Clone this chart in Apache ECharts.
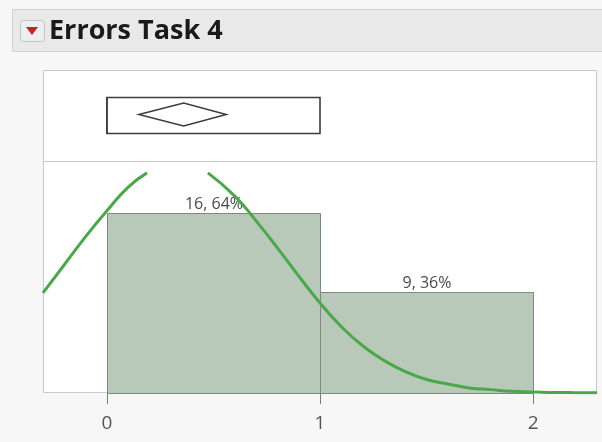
<!DOCTYPE html>
<html>
<head>
<meta charset="utf-8">
<script src="https://cdn.jsdelivr.net/npm/echarts@6/dist/echarts.min.js"></script>
<style>
html,body{margin:0;padding:0;background:#f7f7f7;}
#c{width:602px;height:442px;}
</style>
</head>
<body>
<div id="c"></div>
<script>
// ---- data ----
const titleText = 'Errors Task 4';
const binStarts = [0, 1];
const binEnds = [1, 2];
const counts = [16, 9];
const xTicks = [0, 1, 2];
const quartiles = [0, 0, 1];            // Q1, median, Q3
const meanDiamond = [0.15, 0.36, 0.56]; // lower CI, mean, upper CI
// fitted normal curve (null = above the top of the plot, not drawn)
const curveX = [-0.3,-0.2,-0.1,0,0.1,0.188,0.33,0.474,0.6,0.7,0.8,0.9,1.0,1.1,1.2,1.3,1.4,1.5,1.6,1.7,1.8,1.9,2.0,2.1,2.2,2.3];
const curveY = [8.9,11.4,13.9,16.2,18.3,19.56,null,19.56,17.5,15.3,12.9,10.4,8.0,5.9,4.2,2.9,1.9,1.2,0.8,0.45,0.3,0.15,0.1,0.05,0.03,0.02];

const total = counts.reduce((a, b) => a + b, 0);
const histData = counts.map((c, i) => [binStarts[i], binEnds[i], c]);
const curveData = curveX.map((x, i) => [x, curveY[i] === null ? '-' : curveY[i]]);

const chart = echarts.init(document.getElementById('c'), null, {renderer: 'canvas'});
const font = '"Open Sans", "Noto Sans", sans-serif';

const option = {
  backgroundColor: '#f7f7f7',
  animation: false,
  graphic: [
    {type: 'rect', z: 0, shape: {x: 12.5, y: 9.5, width: 600, height: 42}, style: {fill: '#e9e9e9', stroke: '#d2d2d2', lineWidth: 1}},
    {type: 'rect', z: 1, shape: {x: 20.5, y: 20.5, width: 24, height: 21, r: 3}, style: {fill: '#eeeeee', stroke: '#c4c4c4', lineWidth: 1}},
    {type: 'polygon', z: 2, shape: {points: [[26, 27], [38, 27], [32, 35]]}, style: {fill: '#cf1f28'}},
    {type: 'text', z: 2, style: {x: 49, y: 31, text: titleText, font: 'bold 27px ' + font, fill: '#1a1a1a', textVerticalAlign: 'middle'}},
    {type: 'rect', z: 0, shape: {x: 43.5, y: 70.5, width: 553, height: 322}, style: {fill: '#ffffff', stroke: '#c8c8c8', lineWidth: 1}},
    {type: 'line', z: 1, shape: {x1: 43.5, y1: 161.5, x2: 596.5, y2: 161.5}, style: {stroke: '#c8c8c8', lineWidth: 1}}
  ],
  grid: [
    {left: 43, right: 5, top: 70, height: 91},
    {left: 43, right: 5, top: 172, bottom: 49}
  ],
  xAxis: [
    {gridIndex: 0, type: 'value', min: -0.3, max: 2.3, show: false},
    {gridIndex: 1, type: 'value', min: -0.3, max: 2.3,
     axisLine: {show: false}, splitLine: {show: false},
     axisTick: {show: true, customValues: xTicks, length: 11, lineStyle: {color: '#7a7a7a', width: 1}},
     axisLabel: {customValues: xTicks, margin: 21, fontSize: 19, color: '#555555', fontFamily: font}}
  ],
  yAxis: [
    {gridIndex: 0, type: 'value', min: 0, max: 1, show: false},
    {gridIndex: 1, type: 'value', min: 0, max: 19.64, show: false}
  ],
  series: [
    {
      type: 'custom', xAxisIndex: 0, yAxisIndex: 0, z: 3,
      data: [[quartiles[0], quartiles[1], quartiles[2]]],
      renderItem: function (params, api) {
        const a = api.coord([api.value(0), 0.5]);
        const m = api.coord([api.value(1), 0.5]);
        const b = api.coord([api.value(2), 0.5]);
        return {type: 'group', children: [
          {type: 'rect', shape: {x: a[0], y: a[1] - 18, width: b[0] - a[0], height: 36},
           style: {fill: 'none', stroke: '#3c3c3c', lineWidth: 1.6}},
          {type: 'line', shape: {x1: m[0], y1: m[1] - 18, x2: m[0], y2: m[1] + 18},
           style: {stroke: '#3c3c3c', lineWidth: 1.6}}
        ]};
      }
    },
    {
      type: 'custom', xAxisIndex: 0, yAxisIndex: 0, z: 3,
      data: [[meanDiamond[0], meanDiamond[1], meanDiamond[2]]],
      renderItem: function (params, api) {
        const lo = api.coord([api.value(0), 0.5]);
        const mu = api.coord([api.value(1), 0.5]);
        const hi = api.coord([api.value(2), 0.5]);
        const h = 11.5;
        return {type: 'polygon', shape: {points: [[lo[0], lo[1] - 1], [mu[0], mu[1] - 1 - h], [hi[0], hi[1] - 1], [mu[0], mu[1] - 1 + h]]},
          style: {fill: 'none', stroke: '#3c3c3c', lineWidth: 1.5}};
      }
    },
    {
      type: 'custom', xAxisIndex: 1, yAxisIndex: 1, z: 3,
      data: histData,
      renderItem: function (params, api) {
        const p0 = api.coord([api.value(0), api.value(2)]);
        const p1 = api.coord([api.value(1), 0]);
        const c = api.value(2);
        return {
          type: 'rect',
          shape: {x: Math.round(p0[0]) + 0.5, y: Math.round(p0[1]) + 0.5, width: Math.round(p1[0] - p0[0]), height: Math.round(p1[1] - p0[1])},
          style: {fill: '#b9c9b9', stroke: '#7d8a7d', lineWidth: 1},
          textContent: {style: {text: c + ', ' + Math.round(c / total * 100) + '%', font: '16px ' + font, fill: '#4a4a4a'}},
          textConfig: {position: 'top', distance: 1}
        };
      }
    },
    {
      type: 'line', xAxisIndex: 1, yAxisIndex: 1, z: 4,
      data: curveData, smooth: true, symbol: 'none', clip: true, connectNulls: false,
      lineStyle: {color: '#4aa84a', width: 3}
    }
  ]
};
chart.setOption(option);
</script>
</body>
</html>
